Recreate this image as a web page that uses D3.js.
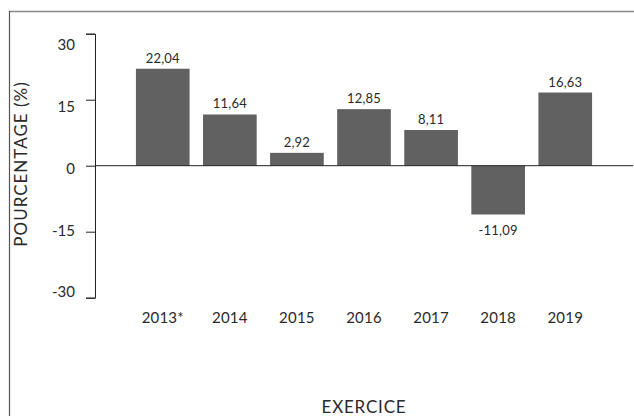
<!DOCTYPE html>
<html>
<head>
<meta charset="utf-8">
<script src="https://cdn.jsdelivr.net/npm/d3@7"></script>
<style>
  body { margin: 0; background: #fff; }
  svg { display: block; font-family: Lato, "Open Sans", sans-serif; font-weight: 400; }
</style>
</head>
<body>
<svg id="chart" width="634" height="416"></svg>
<script>
// data
var years = ['2013*', '2014', '2015', '2016', '2017', '2018', '2019'];
var values = [22.04, 11.64, 2.92, 12.85, 8.11, -11.09, 16.63];
var yTicks = [30, 15, 0, -15, -30];

var svg = d3.select('#chart');
var textCol = '#2a2a2a';

var x = d3.scaleBand().domain(years).range([95, 633]).paddingInner(0.2).paddingOuter(0.61);
var y = d3.scaleLinear().domain([-30, 30]).range([297.7, 33.7]);
// tick labels sit a little off their ticks in the original
var labelY = d3.scaleLinear().domain([-30, 30]).range([292, 45]);

var frmt = function (d) { return d3.format('.2f')(d).replace('.', ',').replace('\u2212', '-'); };

// frame lines
svg.append('line').attr('x1', 9).attr('x2', 634).attr('y1', 11.5).attr('y2', 11.5)
    .attr('stroke', '#8a8a8a').attr('stroke-width', 1.5);
svg.append('line').attr('x1', 9.5).attr('x2', 9.5).attr('y1', 11).attr('y2', 416)
    .attr('stroke', '#555').attr('stroke-width', 1.2);

// y axis
var yAxis = svg.append('g').attr('transform', 'translate(95,0)')
    .call(d3.axisLeft(y).tickValues(yTicks).tickSize(9).tickFormat(''));
yAxis.select('.domain').attr('stroke', '#222');
yAxis.selectAll('.tick line').attr('stroke', '#222');

svg.append('g').selectAll('text')
    .data(yTicks)
    .enter()
    .append('text')
    .attr('x', 75)
    .attr('y', function (d) { return labelY(d); })
    .attr('dy', '0.36em')
    .attr('text-anchor', 'end')
    .attr('font-size', 15)
    .attr('fill', textCol)
    .text(function (d) { return d; });

// bars
svg.selectAll('rect.bar')
    .data(values)
    .enter()
    .append('rect')
    .attr('class', 'bar')
    .attr('x', function (d, i) { return x(years[i]); })
    .attr('width', x.bandwidth())
    .attr('y', function (d) { return y(Math.max(0, d)); })
    .attr('height', function (d) { return Math.abs(y(d) - y(0)); })
    .attr('fill', '#616161');

// zero line
svg.append('line').attr('x1', 95).attr('x2', 633).attr('y1', y(0)).attr('y2', y(0))
    .attr('stroke', '#222').attr('stroke-width', 1);

// value labels
svg.selectAll('text.val')
    .data(values)
    .enter()
    .append('text')
    .attr('class', 'val')
    .attr('x', function (d, i) { return x(years[i]) + x.bandwidth() / 2; })
    .attr('y', function (d) { return d >= 0 ? y(d) - 6 : y(d) + 21; })
    .attr('text-anchor', 'middle')
    .attr('font-size', 13)
    .attr('letter-spacing', 0.2)
    .attr('fill', textCol)
    .text(function (d) { return frmt(d); });

// x labels
svg.selectAll('text.cat')
    .data(years)
    .enter()
    .append('text')
    .attr('class', 'cat')
    .attr('x', function (d) { return x(d) + x.bandwidth() / 2; })
    .attr('y', 323)
    .attr('text-anchor', 'middle')
    .attr('font-size', 15)
    .attr('letter-spacing', 0.2)
    .attr('fill', textCol)
    .text(function (d) { return d; });

// axis titles
svg.append('text')
    .attr('x', 364).attr('y', 413)
    .attr('text-anchor', 'middle')
    .attr('font-size', 17)
    .attr('letter-spacing', 0.8)
    .attr('fill', textCol)
    .text('EXERCICE');

svg.append('text')
    .attr('transform', 'translate(27,164) rotate(-90)')
    .attr('text-anchor', 'middle')
    .attr('font-size', 17)
    .attr('letter-spacing', 1)
    .attr('fill', textCol)
    .text('POURCENTAGE (%)');
</script>
</body>
</html>
